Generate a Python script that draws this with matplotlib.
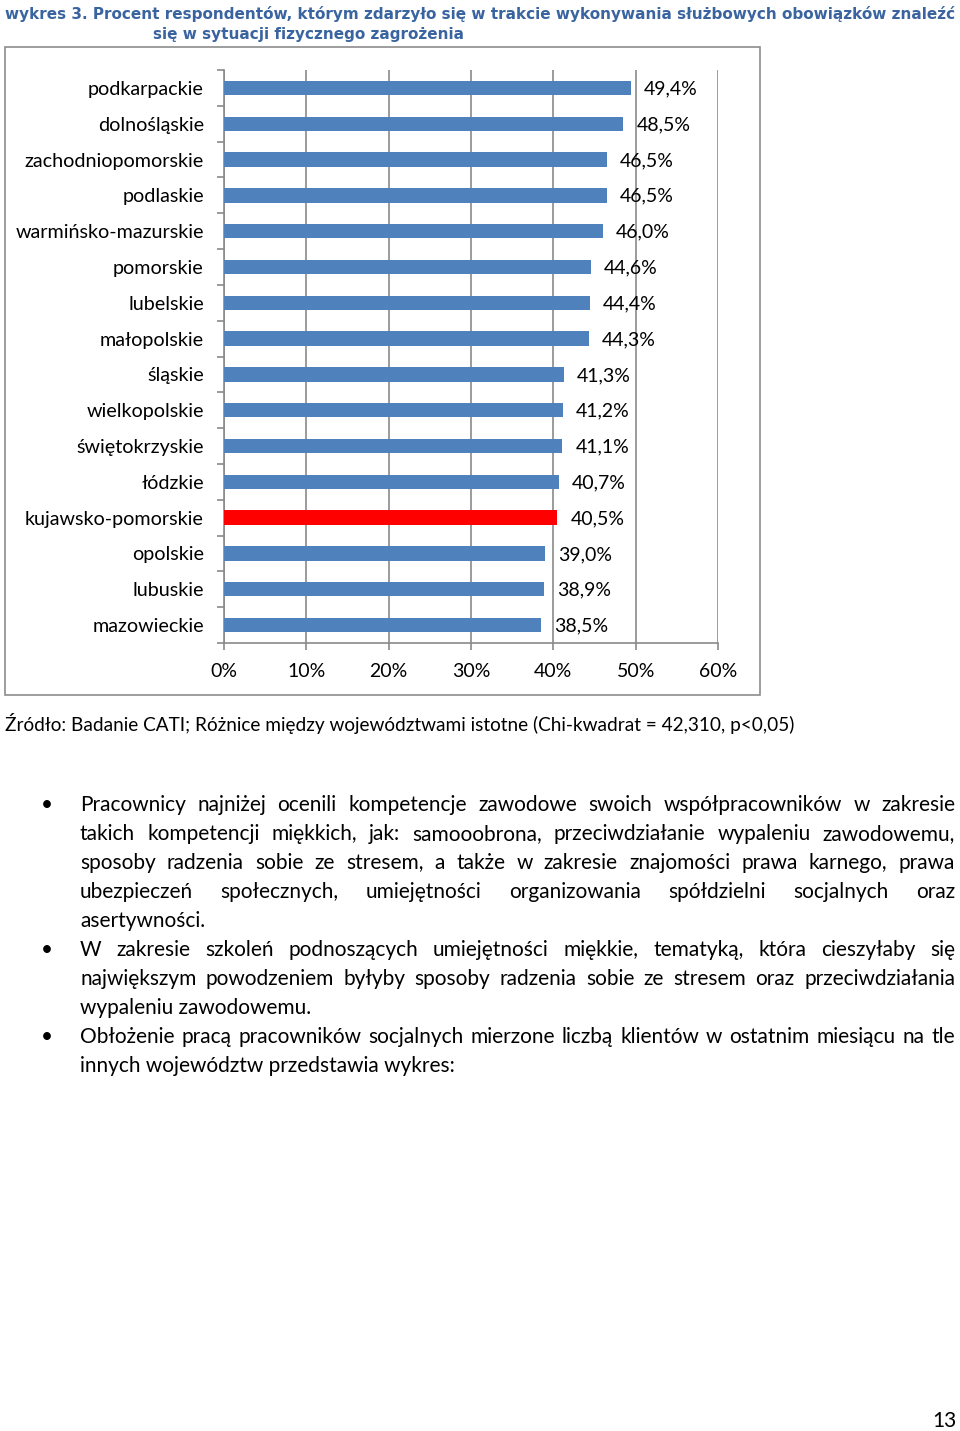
import numpy as np
import matplotlib
matplotlib.use("Agg")
from matplotlib import pyplot as plt
from matplotlib.patches import Rectangle

# chart data (top to bottom as in the picture)
regions = ["podkarpackie", "dolnośląskie", "zachodniopomorskie", "podlaskie",
           "warmińsko-mazurskie", "pomorskie", "lubelskie", "małopolskie",
           "śląskie", "wielkopolskie", "świętokrzyskie", "łódzkie",
           "kujawsko-pomorskie", "opolskie", "lubuskie", "mazowieckie"]
values = [49.4, 48.5, 46.5, 46.5, 46.0, 44.6, 44.4, 44.3,
          41.3, 41.2, 41.1, 40.7, 40.5, 39.0, 38.9, 38.5]
highlight = "kujawsko-pomorskie"
x_ticks = [0, 10, 20, 30, 40, 50, 60]

title_lines = ["wykres 3. Procent respondentów, którym zdarzyło się w trakcie wykonywania służbowych obowiązków znaleźć",
               "się w sytuacji fizycznego zagrożenia"]
source = "Źródło: Badanie CATI; Różnice między województwami istotne (Chi-kwadrat = 42,310, p<0,05)"
paragraphs = [
    ["Pracownicy najniżej ocenili kompetencje zawodowe swoich współpracowników w zakresie",
     "takich kompetencji miękkich, jak: samooobrona, przeciwdziałanie wypaleniu zawodowemu,",
     "sposoby radzenia sobie ze stresem, a także w zakresie znajomości prawa karnego, prawa",
     "ubezpieczeń społecznych, umiejętności organizowania spółdzielni socjalnych oraz",
     "asertywności."],
    ["W zakresie szkoleń podnoszących umiejętności miękkie, tematyką, która cieszyłaby się",
     "największym powodzeniem byłyby sposoby radzenia sobie ze stresem oraz przeciwdziałania",
     "wypaleniu zawodowemu."],
    ["Obłożenie pracą pracowników socjalnych mierzone liczbą klientów w ostatnim miesiącu na tle",
     "innych województw przedstawia wykres:"],
]
page_number = "13"

W, H = 960, 1431
BLUE = "#4F81BD"
GRID = "#8a8a8a"
chart_font = "Lato"
body_font = "Lato"
body_size = 15

fig = plt.figure(figsize=(W / 100, H / 100), dpi=100)
fig.patch.set_facecolor("white")


def fx(px):
    return px / W


def fy(py):
    return 1 - py / H


# chart frame
fig.patches.append(Rectangle((fx(5), fy(695)), fx(760) - fx(5), fy(47) - fy(695),
                             transform=fig.transFigure, fill=False,
                             edgecolor="#8c8c8c", linewidth=1.2))

ax = fig.add_axes([fx(224), fy(643), fx(718) - fx(224), fy(70) - fy(643)])
ypos = np.arange(len(regions))
colors = ["#FF0000" if r == highlight else BLUE for r in regions]
ax.barh(ypos, values, height=0.4, color=colors, zorder=3)
ax.set_ylim(len(regions) - 0.5, -0.5)
ax.set_xlim(0, 60)

for y, v in zip(ypos, values):
    ax.annotate(f"{v:.1f}%".replace(".", ","), (v, y), xytext=(13, -1),
                textcoords="offset pixels", va="center", ha="left",
                fontsize=14, family=chart_font, color="black", zorder=4)

ax.set_xticks(x_ticks)
ax.set_xticklabels([f"{t}%" for t in x_ticks])
ax.set_yticks(ypos)
ax.set_yticklabels(regions)
ax.set_yticks(np.arange(-0.5, len(regions)), minor=True)
ax.tick_params(axis="y", which="major", length=0, pad=14.5, labelsize=14.2)
ax.tick_params(axis="y", which="minor", length=5, width=1.2, color=GRID, direction="out")
ax.tick_params(axis="x", which="major", length=5, width=1.2, color=GRID,
               direction="out", pad=9.5, labelsize=14)
for lab in ax.get_xticklabels() + ax.get_yticklabels():
    lab.set_family(chart_font)

ax.grid(axis="x", color=GRID, linewidth=1.2, zorder=0)
for side in ["top", "right"]:
    ax.spines[side].set_visible(False)
for side in ["left", "bottom"]:
    ax.spines[side].set_color(GRID)
    ax.spines[side].set_linewidth(1.2)

# title
fig.text(fx(5), fy(14), title_lines[0], fontsize=10.95, fontweight="bold",
         family="DejaVu Sans", color="#3A64A0", va="center", ha="left")
fig.text(fx(153), fy(35), title_lines[1], fontsize=10.95, fontweight="bold",
         family="DejaVu Sans", color="#3A64A0", va="center", ha="left")

# source line
fig.text(fx(5), fy(723), source, fontsize=13.7, family=body_font, va="center", ha="left")

# body text, justified
renderer = fig.canvas.get_renderer()
left, right = 80, 955
line_y = 805
for para in paragraphs:
    fig.text(fx(47), fy(line_y), "•", fontsize=body_size, family=body_font, va="center", ha="center")
    for i, line in enumerate(para):
        last = i == len(para) - 1
        if last:
            fig.text(fx(left), fy(line_y), line, fontsize=body_size, family=body_font,
                     va="center", ha="left")
        else:
            words = line.split()
            texts = [fig.text(0, fy(line_y), w, fontsize=body_size, family=body_font,
                              va="center", ha="left") for w in words]
            widths = [t.get_window_extent(renderer).width for t in texts]
            gap = (right - left - sum(widths)) / (len(words) - 1)
            x = left
            for t, w in zip(texts, widths):
                t.set_x(fx(x))
                x += w + gap
        line_y += 29

fig.text(fx(957), fy(1421), page_number, fontsize=body_size, family=body_font, va="center", ha="right")

fig.savefig("out.png", dpi=100)
